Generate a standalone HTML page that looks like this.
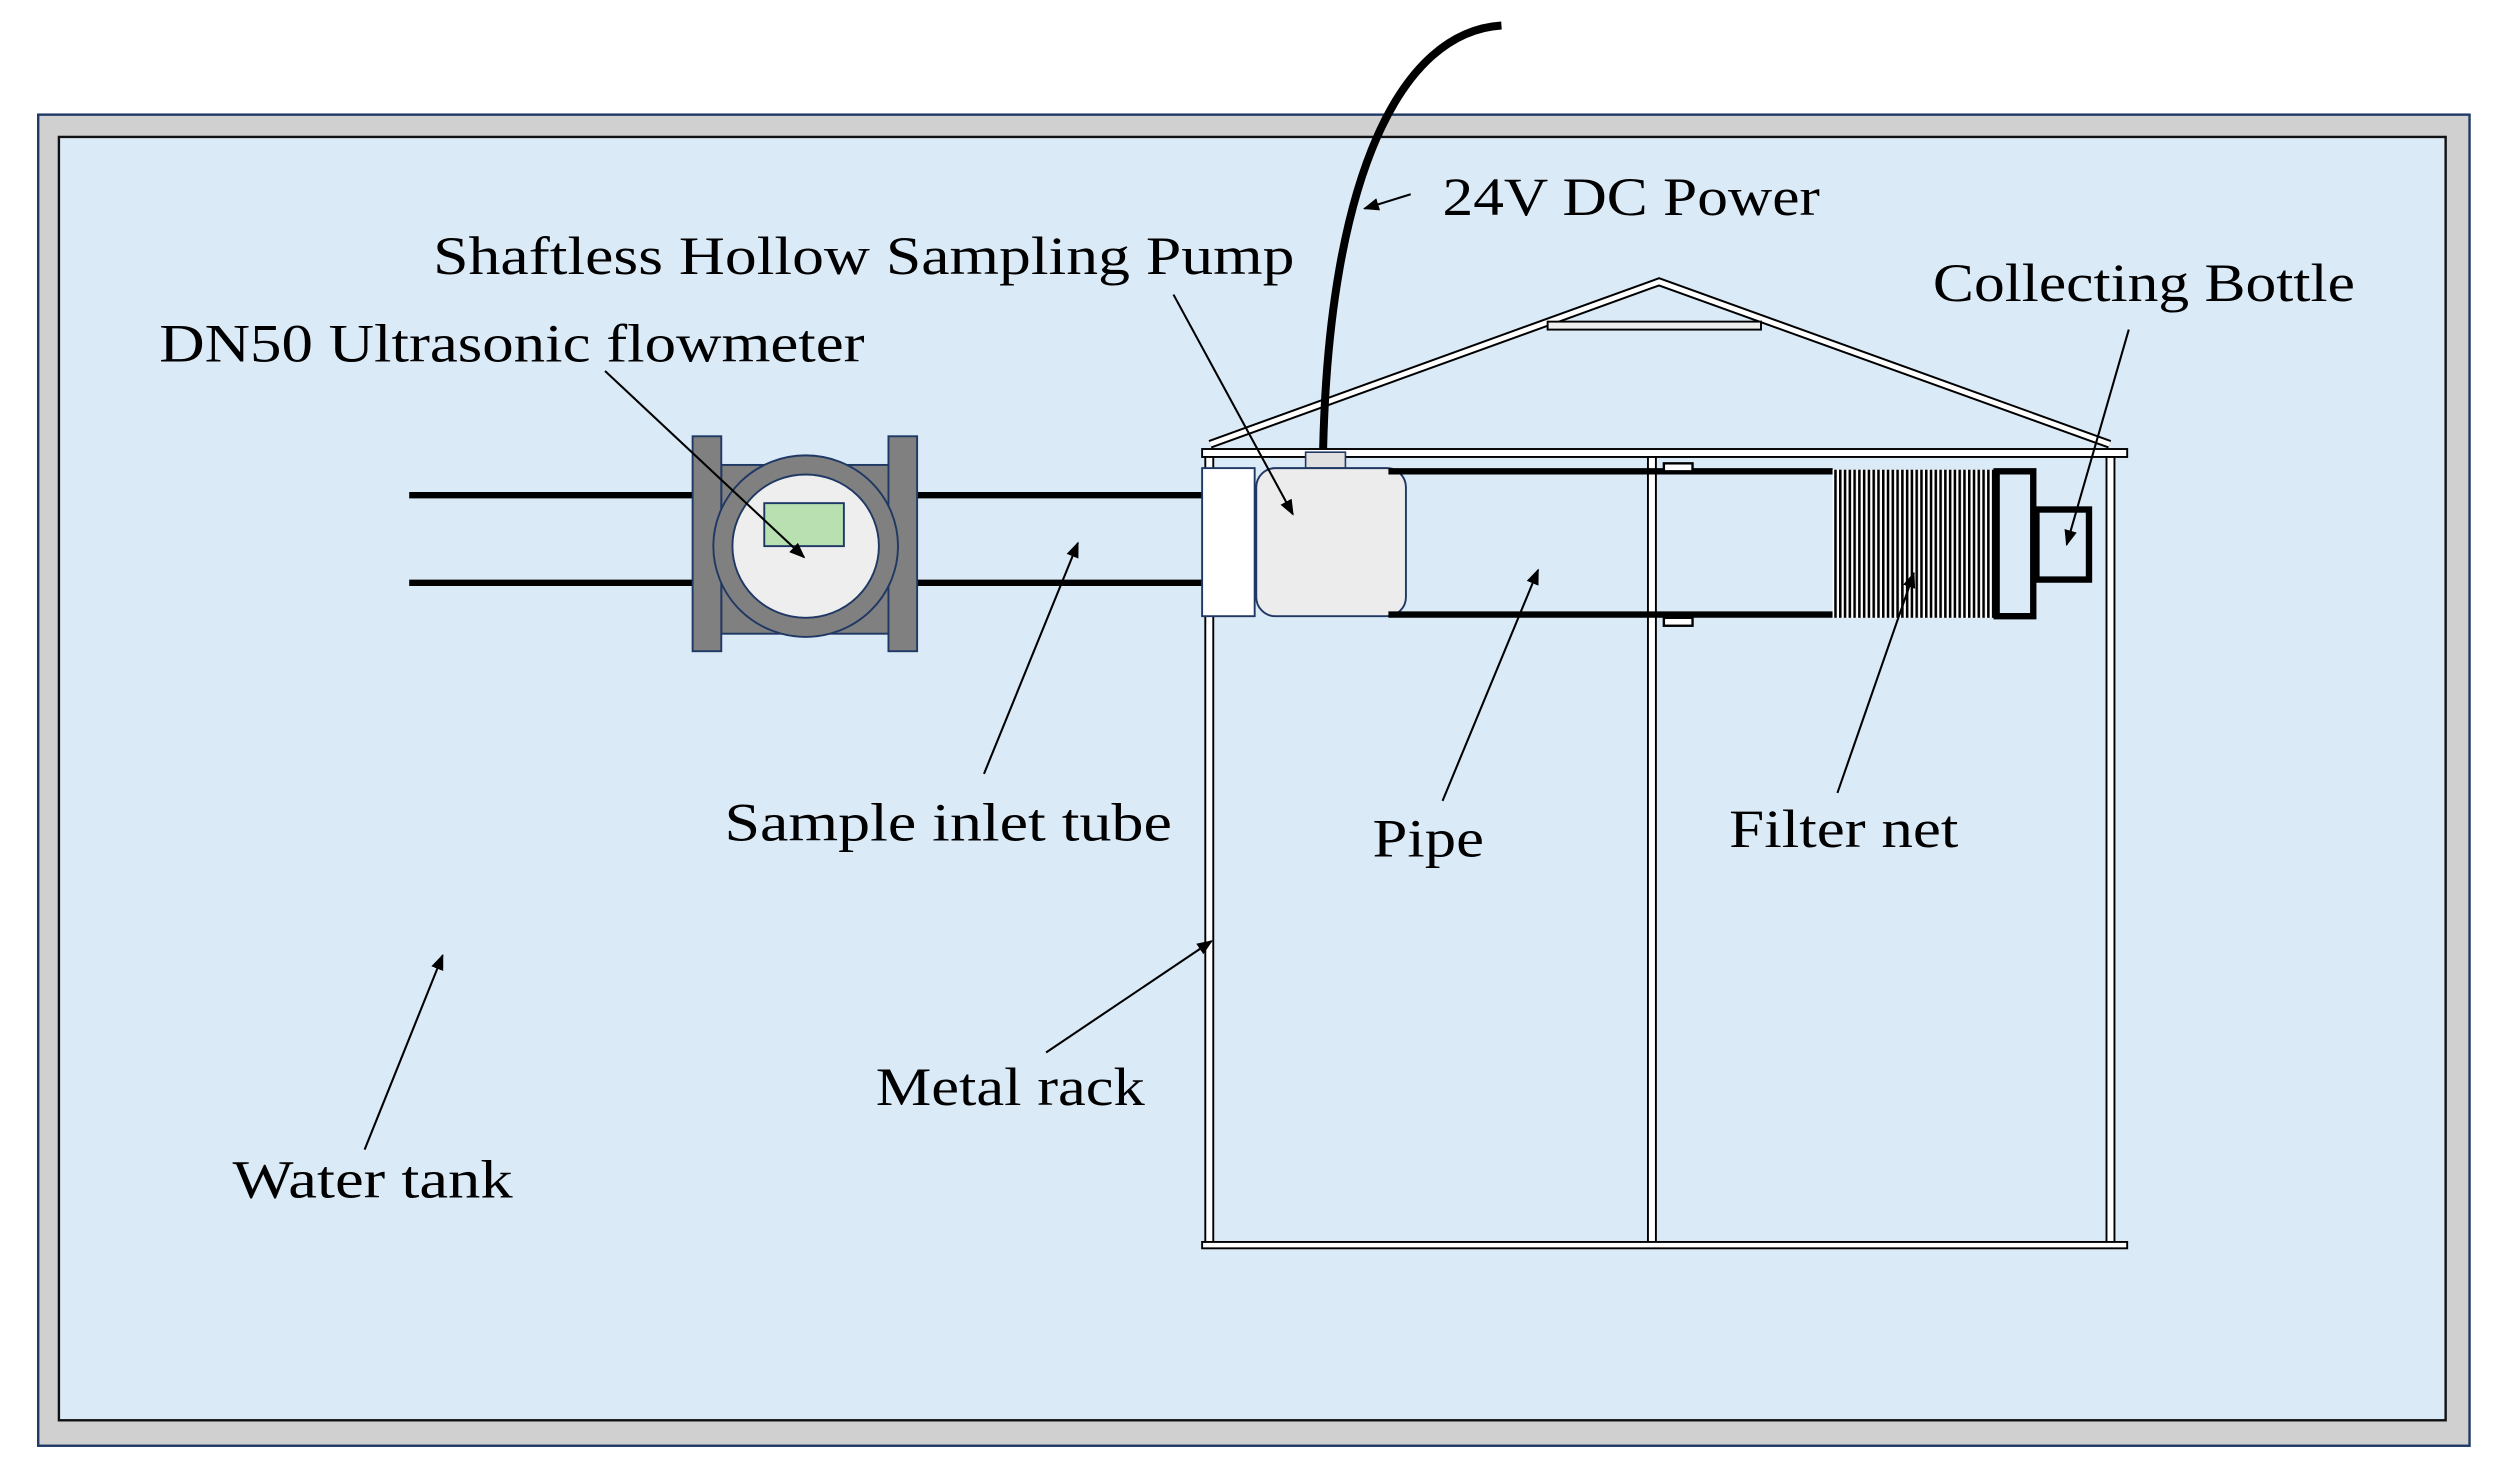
<!DOCTYPE html>
<html><head><meta charset="utf-8"><style>
html,body{margin:0;padding:0;background:#fff;}
svg{display:block;}
text{font-family:"Liberation Serif",serif;font-size:34px;fill:#000;}
</style></head><body>
<svg width="2495" height="1469" viewBox="0 0 1567 922.6" preserveAspectRatio="none" xmlns="http://www.w3.org/2000/svg">
<defs>
<marker id="ah" markerWidth="10" markerHeight="8" refX="9" refY="4" orient="auto" markerUnits="userSpaceOnUse">
<path d="M0,0 L10,4 L0,8 z" fill="#000"/>
</marker>
<pattern id="hatch" width="3" height="10" patternUnits="userSpaceOnUse">
<rect width="3" height="10" fill="#fff"/><rect width="1.6" height="10" fill="#000"/>
</pattern>
</defs>
<rect x="0" y="0" width="1567" height="922.6" fill="#fff"/>
<rect x="24" y="72" width="1527" height="836" fill="#d0d0d0" stroke="#1f3864" stroke-width="1.5"/>
<rect x="37" y="86" width="1499" height="806" fill="#dbeaf7" stroke="#111" stroke-width="1.5"/>

<line x1="257" y1="311" x2="756" y2="311" stroke="#000" stroke-width="4"/>
<line x1="257" y1="366" x2="756" y2="366" stroke="#000" stroke-width="4"/>

<rect x="453" y="292" width="105" height="106" fill="#808080" stroke="#1f3864" stroke-width="1.2"/>
<rect x="435" y="274" width="18" height="135" fill="#808080" stroke="#1f3864" stroke-width="1.2"/>
<rect x="558" y="274" width="18" height="135" fill="#808080" stroke="#1f3864" stroke-width="1.2"/>
<ellipse cx="506" cy="343" rx="58" ry="57" fill="#808080" stroke="#1f3864" stroke-width="1.2"/>
<ellipse cx="506" cy="343" rx="46" ry="45" fill="#eeeeee" stroke="#1f3864" stroke-width="1.2"/>
<rect x="480" y="316" width="50" height="27" fill="#b8e0b0" stroke="#1f3864" stroke-width="1.2"/>

<polyline points="760,279 1042,177 1325,279" fill="none" stroke="#000" stroke-width="5.5"/>
<polyline points="760,279 1042,177 1325,279" fill="none" stroke="#fff" stroke-width="3"/>
<rect x="972" y="202" width="134" height="5" fill="#eee" stroke="#000" stroke-width="1.2"/>

<rect x="755" y="282" width="581" height="5" fill="#fff" stroke="#000" stroke-width="1.2"/>
<rect x="757" y="287" width="5" height="495" fill="#fff" stroke="#000" stroke-width="1.2"/>
<rect x="1035" y="287" width="5" height="495" fill="#fff" stroke="#000" stroke-width="1.2"/>
<rect x="1323" y="287" width="5" height="495" fill="#fff" stroke="#000" stroke-width="1.2"/>
<rect x="755" y="780" width="581" height="4" fill="#fff" stroke="#000" stroke-width="1.2"/>

<rect x="755" y="294" width="33" height="93" fill="#fff" stroke="#1f3864" stroke-width="1.2"/>
<rect x="820" y="284" width="25" height="10" fill="#e0e0e0" stroke="#1f3864" stroke-width="1"/>
<rect x="789" y="294" width="94" height="93" rx="12" fill="#ececec" stroke="#1f3864" stroke-width="1.2"/>

<line x1="872" y1="296" x2="1151" y2="296" stroke="#000" stroke-width="4"/>
<line x1="872" y1="386" x2="1151" y2="386" stroke="#000" stroke-width="4"/>
<rect x="1045" y="291" width="18" height="5" fill="#fff" stroke="#000" stroke-width="1.5"/>
<rect x="1045" y="388" width="18" height="5" fill="#fff" stroke="#000" stroke-width="1.5"/>
<rect x="1151" y="295" width="102" height="93" fill="url(#hatch)"/>
<rect x="1254" y="296" width="23" height="91" fill="none" stroke="#000" stroke-width="4"/>
<rect x="1279" y="320" width="33" height="44" fill="none" stroke="#000" stroke-width="4"/>

<path d="M943,16 C880,20 835,110 831,282" fill="none" stroke="#000" stroke-width="5"/>

<g stroke="#000" stroke-width="1.3" fill="none" marker-end="url(#ah)">
<line x1="886" y1="122" x2="857" y2="131"/>
<line x1="737" y1="185" x2="812" y2="323"/>
<line x1="380" y1="233" x2="505" y2="350"/>
<line x1="1337" y1="207" x2="1298" y2="342"/>
<line x1="618" y1="486" x2="677" y2="341"/>
<line x1="906" y1="503" x2="966" y2="358"/>
<line x1="1154" y1="498" x2="1202" y2="360"/>
<line x1="657" y1="661" x2="761" y2="591"/>
<line x1="229" y1="722" x2="278" y2="600"/>
</g>

<text x="906" y="135" textLength="237" lengthAdjust="spacingAndGlyphs">24V DC Power</text>
<text x="272" y="172" textLength="541" lengthAdjust="spacingAndGlyphs">Shaftless Hollow  Sampling  Pump</text>
<text x="1214" y="189" textLength="265" lengthAdjust="spacingAndGlyphs">Collecting  Bottle</text>
<text x="100" y="227" textLength="443" lengthAdjust="spacingAndGlyphs">DN50 Ultrasonic  flowmeter</text>
<text x="455" y="528" textLength="281" lengthAdjust="spacingAndGlyphs">Sample inlet tube</text>
<text x="862" y="538" textLength="70" lengthAdjust="spacingAndGlyphs">Pipe</text>
<text x="1086" y="532" textLength="144" lengthAdjust="spacingAndGlyphs">Filter net</text>
<text x="550" y="694" textLength="169" lengthAdjust="spacingAndGlyphs">Metal rack</text>
<text x="146" y="752" textLength="176" lengthAdjust="spacingAndGlyphs">Water tank</text>
</svg>
</body></html>
